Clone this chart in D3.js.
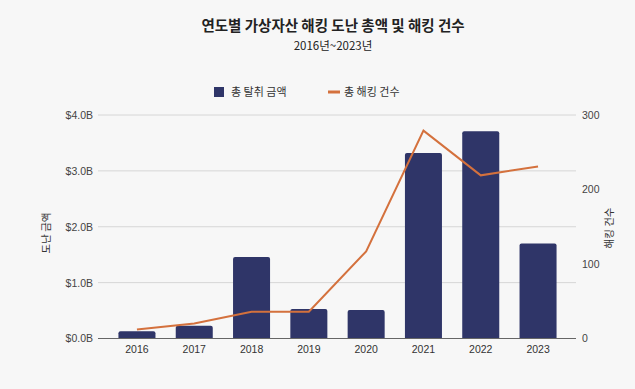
<!DOCTYPE html>
<html>
<head>
<meta charset="utf-8">
<script src="https://cdn.jsdelivr.net/npm/d3@7"></script>
<style>
  html, body { margin: 0; padding: 0; background: #f7f7f7; }
  svg { display: block; font-family: "Noto Sans CJK KR", "Noto Sans", sans-serif; }
</style>
</head>
<body>
<svg id="chart" width="635" height="389"></svg>
<script>
// data
const years = ["2016", "2017", "2018", "2019", "2020", "2021", "2022", "2023"];
const stolen = [0.13, 0.23, 1.46, 0.53, 0.51, 3.32, 3.71, 1.70]; // billions USD
const hacks = [12, 20, 36, 36, 117, 279, 219, 231];
const leftTicks = [0, 1, 2, 3, 4];
const rightTicks = [0, 100, 200, 300];

const svg = d3.select("#chart");
const barColor = "#2f3568";
const lineColor = "#d4713d";

const x = d3.scaleBand().domain(years).range([108.3, 566.7]).paddingInner(0.354).paddingOuter(0.177);
const yL = d3.scaleLinear().domain([0, 4]).range([338.5, 115]);
const yR = d3.scaleLinear().domain([0, 300]).range([338.5, 115]);

svg.append("rect").attr("width", 635).attr("height", 389).attr("fill", "#f7f7f7");

// title
svg.append("text")
  .attr("x", 333).attr("y", 31)
  .attr("text-anchor", "middle")
  .attr("font-size", 14.5).attr("font-weight", "bold").attr("fill", "#222")
  .text("연도별 가상자산 해킹 도난 총액 및 해킹 건수");
svg.append("text")
  .attr("x", 333).attr("y", 50)
  .attr("text-anchor", "middle")
  .attr("font-size", 11.5).attr("fill", "#222")
  .text("2016년~2023년");

// legend
svg.append("rect").attr("x", 214).attr("y", 87).attr("width", 10).attr("height", 10).attr("fill", barColor);
svg.append("text").attr("x", 231).attr("y", 96).attr("font-size", 11).attr("fill", "#333").text("총 탈취 금액");
svg.append("line").attr("x1", 328).attr("x2", 340).attr("y1", 92).attr("y2", 92)
  .attr("stroke", lineColor).attr("stroke-width", 3);
svg.append("text").attr("x", 344).attr("y", 96).attr("font-size", 11).attr("fill", "#333").text("총 해킹 건수");

// gridlines
svg.append("g").selectAll("line")
  .data(leftTicks.filter(d => d > 0))
  .join("line")
  .attr("x1", 98).attr("x2", 576)
  .attr("y1", d => yL(d)).attr("y2", d => yL(d))
  .attr("stroke", "#d6d6d6").attr("stroke-width", 1);

// left axis
const leftAxis = svg.append("g").attr("transform", "translate(98,0)")
  .call(d3.axisLeft(yL).tickValues(leftTicks).tickSize(0).tickPadding(5)
    .tickFormat(d => "$" + d3.format(".1f")(d) + "B"));
leftAxis.select(".domain").remove();
leftAxis.selectAll("text").attr("font-size", 10.5).attr("fill", "#444")
  .attr("font-family", "Liberation Sans, Arial, sans-serif");

// right axis
const rightAxis = svg.append("g").attr("transform", "translate(576,0)")
  .call(d3.axisRight(yR).tickValues(rightTicks).tickSize(0).tickPadding(6));
rightAxis.select(".domain").remove();
rightAxis.selectAll("text").attr("font-size", 10.5).attr("fill", "#444")
  .attr("font-family", "Liberation Sans, Arial, sans-serif");

// axis titles
svg.append("text")
  .attr("transform", "translate(50,233) rotate(-90)")
  .attr("text-anchor", "middle").attr("font-size", 10.5).attr("fill", "#333")
  .text("도난 금액");
svg.append("text")
  .attr("transform", "translate(613,228) rotate(-90)")
  .attr("text-anchor", "middle").attr("font-size", 10.5).attr("fill", "#333")
  .text("해킹 건수");

// bars
svg.append("g").selectAll("path")
  .data(years)
  .join("path")
  .attr("fill", barColor)
  .attr("d", (d, i) => {
    const x0 = x(d), w = x.bandwidth(), y0 = yL(stolen[i]), b = yL(0), r = 2;
    return `M${x0},${b}V${y0 + r}Q${x0},${y0} ${x0 + r},${y0}H${x0 + w - r}Q${x0 + w},${y0} ${x0 + w},${y0 + r}V${b}Z`;
  });

// baseline
svg.append("line").attr("x1", 98).attr("x2", 576)
  .attr("y1", yL(0)).attr("y2", yL(0))
  .attr("stroke", "#666").attr("stroke-width", 1);

// x axis labels
const xAxis = svg.append("g").attr("transform", `translate(0,${yL(0)})`)
  .call(d3.axisBottom(x).tickSize(0).tickPadding(7));
xAxis.select(".domain").remove();
xAxis.selectAll("text").attr("font-size", 10.5).attr("fill", "#333")
  .attr("font-family", "Liberation Sans, Arial, sans-serif");

// line
const line = d3.line()
  .x((d, i) => x(years[i]) + x.bandwidth() / 2)
  .y(d => yR(d));
svg.append("path")
  .datum(hacks)
  .attr("fill", "none")
  .attr("stroke", lineColor)
  .attr("stroke-width", 2)
  .attr("d", line);
</script>
</body>
</html>
